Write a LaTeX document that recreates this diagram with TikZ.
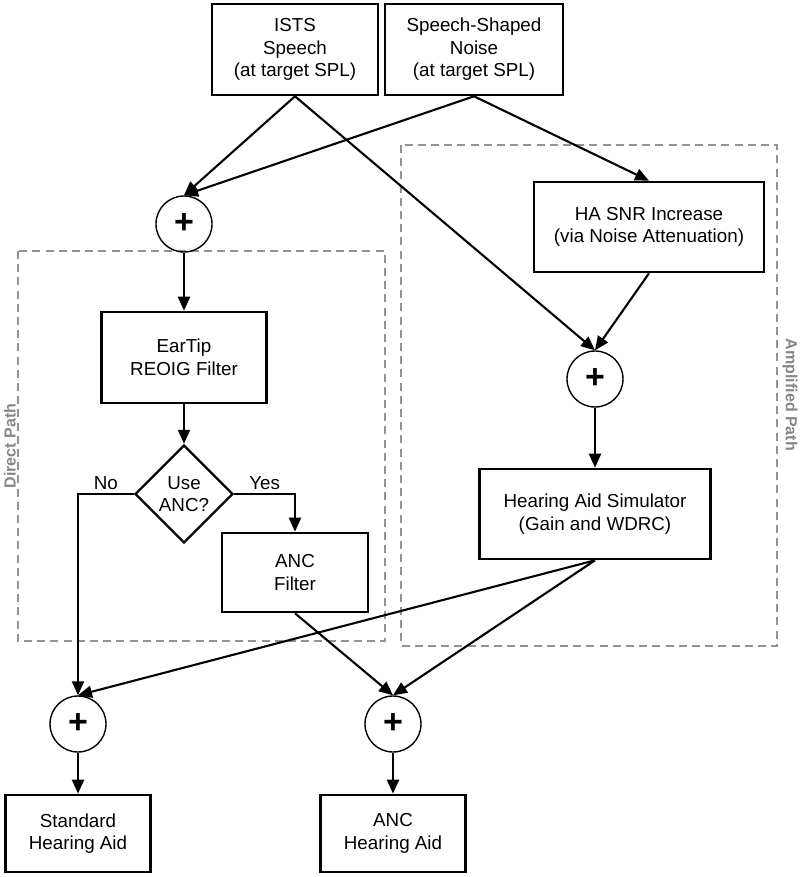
\documentclass[tikz,border=0pt]{standalone}
\usepackage{fontspec}
\setmainfont{Liberation Sans}
\usetikzlibrary{shapes.geometric,arrows.meta}
\tikzset{
    blk/.style={draw,line width=1.3pt,align=center,inner sep=0pt,font=\fontsize{9.4}{11.3}\selectfont},
    sum/.style={draw,circle,line width=0.7pt,minimum size=28pt,inner sep=0pt,font=\fontsize{17}{17}\selectfont\bfseries},
    dec/.style={draw,diamond,aspect=1,line width=1.2pt,minimum width=49pt,minimum height=49pt,inner sep=0pt,align=center,font=\fontsize{9.4}{11.3}\selectfont},
    link/.style={line width=1.05pt,-{Triangle[length=7pt,width=6pt]}},
    grp/.style={draw=gray!85,line width=0.8pt,dash pattern=on 4pt off 2.6pt},
    grplab/.style={text=gray!95,font=\fontsize{8}{9}\selectfont\bfseries,inner sep=0pt},
    lab/.style={font=\fontsize{9.4}{11.3}\selectfont,inner sep=1.5pt}
}
\begin{document}
\begin{tikzpicture}[x=0.5pt,y=-0.5pt]
    \useasboundingbox (0,0) rectangle (800,877);
    \draw[grp] (18,251) rectangle (385,641);
    \draw[grp] (401,145) rectangle (777,646);
    \node (dlab) at (10,446)[grplab,rotate=90]{Direct Path};
    \node (alab) at (790,395)[grplab,rotate=-90]{Amplified Path};
    \node (ists) at (295,49.5)[blk,minimum width=83pt,minimum height=45.5pt]{ISTS\\Speech\\(at target SPL)};
    \node (noise) at (474,49.5)[blk,minimum width=89pt,minimum height=45.5pt]{Speech-Shaped\\Noise\\(at target SPL)};
    \node (snr) at (649,227)[blk,minimum width=115pt,minimum height=45pt]{HA SNR Increase\\(via Noise Attenuation)};
    \node (ear) at (184,357.5)[blk,minimum width=82.5pt,minimum height=45.5pt]{EarTip\\REOIG Filter};
    \node (use) at (184,494)[dec]{Use\\ANC?};
    \node (ancf) at (295,572.5)[blk,minimum width=73pt,minimum height=39.5pt]{ANC\\Filter};
    \node (hasim) at (595,514)[blk,minimum width=115.5pt,minimum height=45pt]{Hearing Aid Simulator\\(Gain and WDRC)};
    \node (stdha) at (78,833.5)[blk,minimum width=72.5pt,minimum height=38.5pt]{Standard\\Hearing Aid};
    \node (ancha) at (393,833.5)[blk,minimum width=72.5pt,minimum height=38.5pt]{ANC\\Hearing Aid};
    \foreach \n/\x/\y in {sumA/184/224,sumB/595/379,sumC/78/724,sumD/393/724}{
        \node (\n) at (\x,\y)[sum]{+};
    }
    \draw[link] (ists.south) -- (sumA.north);
    \draw[link] (noise.south) -- (sumA.north);
    \draw[link] (ists.south) -- (sumB.north);
    \draw[link] (noise.south) -- (snr.north);
    \draw[link] (snr.south) -- (sumB.north);
    \draw[link] (sumB) -- (hasim);
    \draw[link] (sumA) -- (ear);
    \draw[link] (ear) -- (use);
    \draw[link] (use.west) -| node (no)[pos=0.25,above,lab]{No} (sumC.north);
    \draw[link] (use.east) -| node (yes)[pos=0.25,above,lab]{Yes} (ancf.north);
    \draw[link] (ancf.south) -- (sumD.north);
    \draw[link] (hasim.south) -- (sumC.north);
    \draw[link] (hasim.south) -- (sumD.north);
    \draw[link] (sumC) -- (stdha);
    \draw[link] (sumD) -- (ancha);
\end{tikzpicture}
\end{document}
